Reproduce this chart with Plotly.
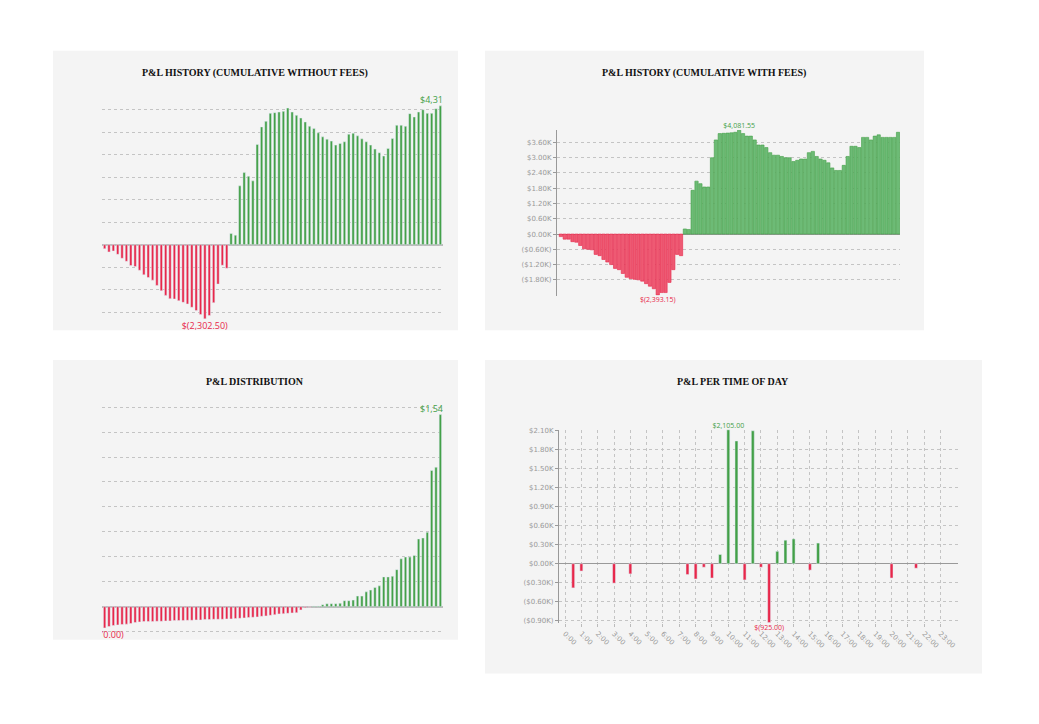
import plotly.graph_objects as go

# P&L history, cumulative without fees
hist_nofee = [-123, -226, -195, -298, -421, -514, -648, -678, -792, -935, -1018, -1100, -1264, -1429,
              -1573, -1676, -1686, -1737, -1789, -1840, -1943, -2046, -2169, -2302.5, -2200, -1799,
              -1223, -637, -730,
              350, 298, 1830, 2241, 2128, 1984, 3115, 3660, 3834, 4081, 4102, 4122, 4143, 4246, 4122,
              4019, 3937, 3814, 3680, 3608, 3475, 3351, 3279, 3218, 3094, 3146, 3197, 3434, 3464,
              3382, 3290, 3197, 3094, 2971, 2858, 2755, 2991, 3300, 3711, 3711, 3680, 4071, 3968,
              4122, 4194, 4081, 4081, 4225, 4313]

# P&L history, cumulative with fees
hist_fee = [-100, -200, -200, -300, -320, -450, -580, -600, -620, -800, -850, -1000, -1100, -1200,
            -1350, -1400, -1550, -1700, -1750, -1780, -1800, -1850, -1950, -2050, -2150, -2393.15,
            -2300, -2300, -1900, -1400, -800, -850,
            200, 180, 1720, 2080, 1980, 1850, 1850, 3000, 3700, 3950, 3960, 3970, 3980, 4000,
            4081.55, 3950, 3850, 3850, 3700, 3500, 3500, 3400, 3200, 3100, 3100, 3050, 3000, 3000,
            2850, 2900, 2950, 2950, 3200, 3250, 3050, 2950, 2900, 2800, 2600, 2500, 2500, 2700,
            3050, 3450, 3450, 3400, 3800, 3800, 3700, 3850, 3900, 3800, 3800, 3800, 3800, 4000]

# P&L distribution (sorted trades)
dist = [-170, -159, -151, -146, -143, -140, -135, -127, -122, -119, -119, -119, -117, -117, -114,
        -114, -111, -111, -111, -109, -109, -106, -106, -103, -103, -101, -101, -101, -98, -98,
        -95, -93, -90, -87, -85, -82, -77, -74, -69, -64, -58, -56, -53, -50, -48, -26, -8, -5,
        5, 5, 16, 24, 24, 24, 27, 48, 48, 53, 85, 85, 119, 133, 154, 167, 239, 239, 244, 297,
        384, 398, 398, 411, 543, 551, 596, 1092, 1118, 1540]

# P&L per time of day (hours)
tod_hours = [0.5, 1, 3, 4, 7.5, 8, 8.5, 9, 9.5, 10, 10.5, 11, 11.5, 12, 12.5, 13, 13.5, 14, 15, 15.5, 20, 21.5]
tod_pnl = [-380, -115, -305, -160, -170, -240, -55, -225, 145, 2105, 1930, -255, 2090, -55, -925,
           195, 370, 390, -100, 325, -225, -70]
hour_labels = [f"{h}:00" for h in range(24)]

GREEN = "#43a047"
RED = "#e8274a"
BG = "#f4f4f4"
W, H = 1039, 724
OFF = 8  # page margin around the plot


def xp(px):
    return (px - OFF) / W


def yp(py):
    return 1 - (py - OFF) / H


def money(v):
    s = f"{abs(v):,.2f}"
    return f"$({s})" if v < 0 else f"${s}"


def labels(vals):
    mx, mn = max(vals), min(vals)
    return [money(v) if v in (mx, mn) else "" for v in vals]


def colors(vals):
    return [GREEN if v >= 0 else RED for v in vals]


fig = go.Figure()

# panel backgrounds
panels = [(53, 48, 458, 330), (485, 48, 924, 330), (53, 360, 458, 642), (485, 360, 982, 676)]
for x0, y0, x1, y1 in panels:
    fig.add_shape(type="rect", xref="paper", yref="paper", x0=xp(x0), x1=xp(x1), y0=yp(y1), y1=yp(y0),
                  fillcolor=BG, line_width=0, layer="below")

titles = [("P&L HISTORY (CUMULATIVE WITHOUT FEES)", 255, 71), ("P&L HISTORY (CUMULATIVE WITH FEES)", 704, 71),
          ("P&L DISTRIBUTION", 255, 382), ("P&L PER TIME OF DAY", 733, 382)]
for t, x, y in titles:
    fig.add_annotation(text=f"<b>{t}</b>", x=xp(x), y=yp(y), xref="paper", yref="paper", showarrow=False,
                       xanchor="center", yanchor="middle",
                       font=dict(family="Liberation Serif", size=10, color="#111"))

bar_common = dict(textposition="outside", constraintext="none", showlegend=False, hoverinfo="y")

# panel 1
fig.add_trace(go.Bar(x=list(range(len(hist_nofee))), y=hist_nofee, marker_color=colors(hist_nofee),
                     text=labels(hist_nofee), textfont=dict(size=9, color=colors(hist_nofee)),
                     cliponaxis=True, xaxis="x", yaxis="y", **bar_common))
# panel 2
fig.add_trace(go.Bar(x=list(range(len(hist_fee))), y=hist_fee, width=0.85,
                     marker=dict(color=["#6dbb76" if v >= 0 else "#ee5a73" for v in hist_fee],
                                 line=dict(color=colors(hist_fee), width=0.6)),
                     text=labels(hist_fee), textfont=dict(size=7, color=colors(hist_fee)),
                     cliponaxis=False, xaxis="x2", yaxis="y2", **bar_common))
# panel 3
fig.add_trace(go.Bar(x=list(range(len(dist))), y=dist, marker_color=colors(dist),
                     text=labels(dist), textfont=dict(size=9, color=colors(dist)),
                     cliponaxis=True, xaxis="x3", yaxis="y3", **bar_common))
# panel 4
fig.add_trace(go.Bar(x=tod_hours, y=tod_pnl, width=0.18, marker_color=colors(tod_pnl),
                     text=labels(tod_pnl), textfont=dict(size=7, color=colors(tod_pnl)),
                     cliponaxis=False, xaxis="x4", yaxis="y4", **bar_common))

grid = dict(showgrid=True, gridcolor="#c4c4c4", griddash="dot", gridwidth=0.8)
tickfont = dict(family="DejaVu Sans", size=7, color="#999")


def kfmt(v):
    s = f"${abs(v) / 1000:.2f}K"
    return f"({s})" if v < 0 else s


ticks2 = list(range(-1800, 3601, 600))
ticks4 = list(range(-900, 2101, 300))

fig.update_layout(
    width=W, height=H, margin=dict(l=0, r=0, t=0, b=0),
    paper_bgcolor="white", plot_bgcolor="rgba(0,0,0,0)",
    bargap=0.45,
    xaxis=dict(domain=[xp(102), xp(443)], range=[-0.6, len(hist_nofee) - 0.4], visible=False, anchor="y"),
    yaxis=dict(domain=[yp(331), yp(92)], range=[-2689, 4672], dtick=700, tick0=0, showticklabels=False,
               anchor="x", zeroline=True, zerolinecolor="#bbb", zerolinewidth=1.5, **grid),
    xaxis2=dict(domain=[xp(557), xp(900)], range=[-1, len(hist_fee) - 0.5], visible=False, anchor="y2"),
    yaxis2=dict(domain=[yp(295), yp(128)], range=[-2420, 4090], tickvals=ticks2, anchor="x2",
                ticktext=[kfmt(v) for v in ticks2], tickfont=tickfont, ticks="outside", ticklen=3,
                tickcolor="#999", showline=True, linecolor="#999", zeroline=True, zerolinecolor="#999",
                zerolinewidth=1.2, **grid),
    xaxis3=dict(domain=[xp(102), xp(443)], range=[-0.6, len(dist) - 0.4], visible=False, anchor="y3"),
    yaxis3=dict(domain=[yp(642), yp(400)], range=[-265, 1659], dtick=200, tick0=0, showticklabels=False,
                anchor="x3", zeroline=True, zerolinecolor="#bbb", zerolinewidth=1.5, **grid),
    xaxis4=dict(domain=[xp(559), xp(958)], range=[-0.37, 24.07], tickvals=list(range(24)),
                ticktext=hour_labels, tickangle=45, tickfont=tickfont, ticks="outside", ticklen=3,
                tickcolor="#bbb", anchor="y4", **grid),
    yaxis4=dict(domain=[yp(625), yp(430)], range=[-930, 2110], tickvals=ticks4,
                ticktext=[kfmt(v) for v in ticks4], tickfont=tickfont, ticks="outside", ticklen=3,
                tickcolor="#999", showline=True, linecolor="#999", zeroline=True, zerolinecolor="#999",
                zerolinewidth=1.2, anchor="x4", **grid),
)
fig.write_html("out.html")
